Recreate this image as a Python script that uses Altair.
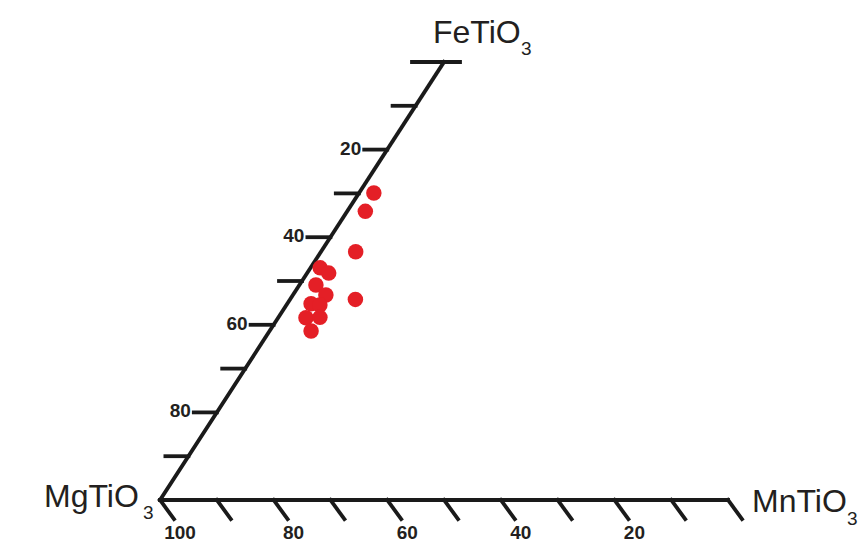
import altair as alt
import pandas as pd
import numpy as np

# ---- data (mol %) ----
fe_tio3 = [70.1, 65.9, 56.7, 45.8, 53.0, 51.8, 49.1, 46.8, 44.8, 44.5, 41.6, 41.7, 38.6]
mn_tio3 = [2.6, 3.2, 6.1, 11.5, 1.7, 3.8, 2.9, 5.8, 4.2, 5.9, 4.9, 7.3, 7.3]
mg_tio3 = [27.3, 30.9, 37.2, 42.7, 45.3, 44.4, 48.0, 47.4, 51.0, 49.6, 53.5, 51.0, 54.1]

left_tick_values = [0, 10, 20, 30, 40, 50, 60, 70, 80, 90]       # 0 at FeTiO3, 100 at MgTiO3
left_label_values = [20, 40, 60, 80]
left_labels = ["20", "40", "60", "80"]
bottom_tick_values = [100, 90, 80, 70, 60, 50, 40, 30, 20, 10, 0]  # 100 at MgTiO3, 0 at MnTiO3
bottom_label_values = [100, 80, 60, 40, 20]
bottom_labels = ["100", "80", "60", "40", "20"]

corner_names = ["MgTiO", "FeTiO", "MnTiO"]
corner_sub = ["3", "3", "3"]
corner_fe = [0, 100, 0]
corner_mn = [0, 0, 100]

# ---- scale geometry ----
W, H = 864, 545
PX_X = 5.68      # px per x unit
PX_Y = 5.0576    # px per y unit
OX, OY = 160, 500
S3 = np.sqrt(3) / 2

xs = alt.Scale(domain=[-OX / PX_X, (W - OX) / PX_X], range=[0, W], nice=False, zero=False)
ys = alt.Scale(domain=[-(H - OY) / PX_Y, OY / PX_Y], range=[H, 0], nice=False, zero=False)


def tern(fe, mn):
    return mn + fe / 2.0, fe * S3


pts = pd.DataFrame({"fe": fe_tio3, "mn": mn_tio3, "mg": mg_tio3})
pts["x"], pts["y"] = tern(pts["fe"], pts["mn"])

# axis segments
segs = []
mgx, mgy = tern(0, 0)
fex, fey = tern(100, 0)
mnx, mny = tern(0, 100)
segs.append((mgx, mgy, fex, fey))
segs.append((mgx, mgy, mnx, mny))
# top bar at FeTiO3
segs.append((fex - 32 / PX_X, fey, fex + 16 / PX_X, fey))
for v in left_tick_values[1:]:
    x, y = tern(100 - v, 0)
    segs.append((x - 23 / PX_X, y, x, y))
for b in bottom_tick_values:
    x, y = tern(0, 100 - b)
    segs.append((x, y, x + 14 / PX_X, y - 19 / PX_Y))
seg_df = pd.DataFrame(segs, columns=["x", "y", "x2", "y2"])

ll = pd.DataFrame({"v": left_label_values, "t": left_labels})
ll["x"], ll["y"] = tern(100 - ll["v"], 0)
ll["x"] = ll["x"] - 23 / PX_X

bl = pd.DataFrame({"v": bottom_label_values, "t": bottom_labels})
bl["x"], bl["y"] = tern(0, 100 - bl["v"])

cn = pd.DataFrame({"name": corner_names, "sub": corner_sub, "fe": corner_fe, "mn": corner_mn})
cn["x"], cn["y"] = tern(cn["fe"], cn["mn"])

X = lambda f="x:Q": alt.X(f, scale=xs, axis=None)
Y = lambda f="y:Q": alt.Y(f, scale=ys, axis=None)

ink = "#1a1a1a"
txt = "#231f20"
font = "Liberation Sans"

rules = alt.Chart(seg_df).mark_rule(color=ink, strokeWidth=3.8, strokeCap="square").encode(
    x=X(), y=Y(), x2="x2:Q", y2="y2:Q"
)

left_txt = alt.Chart(ll).mark_text(
    align="right", baseline="middle", dx=-3, dy=-1, font=font, fontSize=19,
    fontWeight="bold", color=txt
).encode(x=X(), y=Y(), text="t:N")

bottom_txt = alt.Chart(bl).mark_text(
    align="center", baseline="middle", dx=20, dy=33, font=font, fontSize=19,
    fontWeight="bold", color=txt
).encode(x=X(), y=Y(), text="t:N")

# corner labels: (main dx, main dy, sub dx, sub dy)
offsets = {
    "MgTiO": (-116, 7, -17, 19),
    "FeTiO": (-11, -19, 77, -7),
    "MnTiO": (24, 12, 119, 25),
}
corner_layers = []
for name, (dx, dy, sdx, sdy) in offsets.items():
    d = cn[cn["name"] == name]
    corner_layers.append(
        alt.Chart(d).mark_text(align="left", baseline="alphabetic", dx=dx, dy=dy,
                               font=font, fontSize=32, color=txt)
        .encode(x=X(), y=Y(), text="name:N")
    )
    corner_layers.append(
        alt.Chart(d).mark_text(align="left", baseline="alphabetic", dx=sdx, dy=sdy,
                               font=font, fontSize=19, color=txt)
        .encode(x=X(), y=Y(), text="sub:N")
    )

points = alt.Chart(pts).mark_circle(size=240, color="#e41f26", opacity=1).encode(
    x=X(), y=Y()
)

chart = alt.layer(rules, left_txt, bottom_txt, *corner_layers, points).properties(
    width=W, height=H, padding=0, autosize="none", background="white"
).configure_view(stroke=None)

chart.save("out.html", embed_options={"renderer": "svg", "actions": False})
